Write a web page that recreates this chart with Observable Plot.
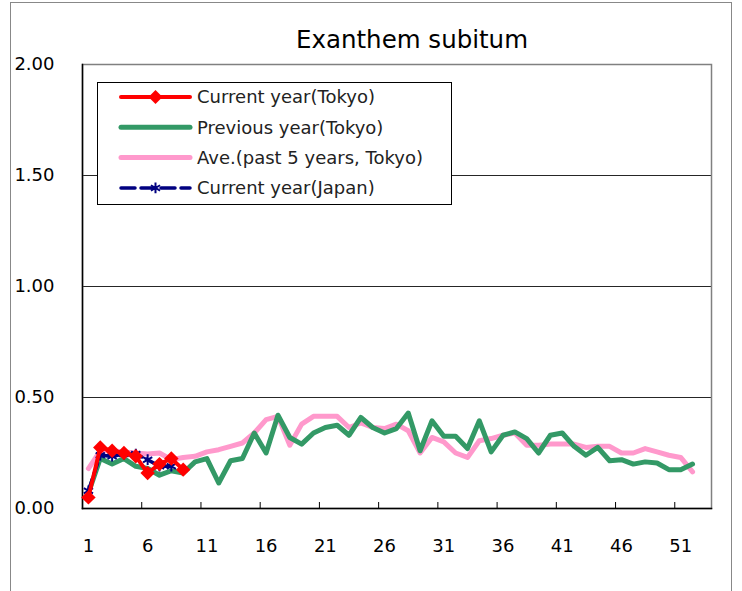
<!DOCTYPE html>
<html><head><meta charset="utf-8">
<script src="https://cdn.jsdelivr.net/npm/d3@7"></script>
<script src="https://cdn.jsdelivr.net/npm/@observablehq/plot@0.6"></script>
<style>body{margin:0;background:#fff} #chart{width:742px;height:591px}</style>
</head><body><div id="chart"></div>
<script>
const title = "Exanthem subitum";
const seriesNames = ["Current year(Tokyo)", "Previous year(Tokyo)", "Ave.(past 5 years, Tokyo)", "Current year(Japan)"];
const prevTokyo = [0.07,0.225,0.20,0.225,0.19,0.18,0.15,0.17,0.16,0.21,0.225,0.115,0.215,0.225,0.34,0.25,0.42,0.32,0.29,0.34,0.365,0.375,0.33,0.41,0.365,0.34,0.36,0.43,0.26,0.395,0.325,0.325,0.27,0.395,0.255,0.33,0.345,0.315,0.25,0.33,0.34,0.28,0.24,0.275,0.215,0.22,0.20,0.21,0.205,0.175,0.175,0.20];
const avgTokyo = [0.18,0.26,0.26,0.255,0.25,0.245,0.25,0.22,0.23,0.235,0.255,0.265,0.28,0.295,0.34,0.40,0.415,0.285,0.38,0.415,0.415,0.415,0.365,0.385,0.365,0.36,0.38,0.35,0.25,0.32,0.30,0.25,0.23,0.305,0.315,0.33,0.34,0.285,0.285,0.29,0.29,0.29,0.275,0.28,0.28,0.25,0.25,0.27,0.255,0.24,0.23,0.165];
const curTokyo = [0.05,0.275,0.26,0.25,0.235,0.16,0.20,0.225,0.175];
const curJapan = [0.08,0.24,0.235,0.245,0.245,0.22,0.19,0.19];
const yTicks = [0, 0.5, 1, 1.5, 2];
const yGrid = [0.5, 1, 1.5];
const xTickLabels = [1,6,11,16,21,26,31,36,41,46,51];
const xTickMarks = [5.5,10.5,15.5,20.5,25.5,30.5,35.5,40.5,45.5,50.5];

const rows = vals => vals.map((v, i) => ({week: i + 1, value: v}));
const colors = {red: "#ff0000", green: "#339966", pink: "#ff99cc", navy: "#000080"};
const FONT = "DejaVu Sans";
const yMax = 2, plotH = 591 - 64 - 83;
const tickLen = 6 * yMax / plotH; // inward tick length (6px) in data units

const plot = Plot.plot({
  width: 742, height: 591,
  marginLeft: 82, marginRight: 31, marginTop: 64, marginBottom: 83,
  style: {fontFamily: FONT, fontSize: "18px", color: "#000", background: "#fff"},
  x: {type: "linear", domain: [0.5, 53.6], label: null},
  y: {domain: [0, yMax], label: null},
  marks: [
    Plot.ruleY(yGrid, {stroke: "#000", strokeWidth: 1, strokeOpacity: 0.85}),
    Plot.frame({stroke: "#808080", strokeWidth: 1.5}),
    Plot.frame({anchor: "left", stroke: "#000", strokeWidth: 1.5}),
    Plot.frame({anchor: "bottom", stroke: "#000", strokeWidth: 1.5}),
    Plot.ruleX(xTickMarks, {x: d => d, y1: 0, y2: tickLen, stroke: "#000", strokeWidth: 1}),
    Plot.axisX({ticks: xTickLabels, tickSize: 0, tickPadding: 31, fontSize: 18, tickFormat: d => String(d), label: null}),
    Plot.axisY({ticks: yTicks, tickSize: 0, tickPadding: 28, fontSize: 18, tickFormat: d3.format(".2f"), label: null}),
    Plot.line(rows(avgTokyo), {x: "week", y: "value", stroke: colors.pink, strokeWidth: 5, strokeLinejoin: "round"}),
    Plot.line(rows(prevTokyo), {x: "week", y: "value", stroke: colors.green, strokeWidth: 5, strokeLinejoin: "round"}),
    Plot.line(rows(curJapan), {x: "week", y: "value", stroke: colors.navy, strokeWidth: 3.5, strokeDasharray: "12,5", strokeLinejoin: "round"}),
    Plot.dot(rows(curJapan), {x: "week", y: "value", symbol: "asterisk", r: 5, stroke: colors.navy, strokeWidth: 2}),
    Plot.line(rows(curTokyo), {x: "week", y: "value", stroke: colors.red, strokeWidth: 4, strokeLinejoin: "round"}),
    Plot.dot(rows(curTokyo), {x: "week", y: "value", symbol: "diamond2", r: 6.5, fill: colors.red, stroke: "none"}),
    Plot.text([title], {text: d => d, frameAnchor: "top", dx: 15, dy: -24, lineAnchor: "middle", fontSize: 24.5})
  ]
});
document.getElementById("chart").appendChild(plot);

const svg = d3.select(plot);
// outer chart frame
svg.append("rect").attr("x", 10.5).attr("y", 2.5).attr("width", 721).attr("height", 620)
  .attr("fill", "none").attr("stroke", "#888").attr("stroke-width", 1);

// legend
const lg = svg.append("g").attr("font-family", FONT).attr("font-size", 18).attr("text-anchor", "start");
lg.append("rect").attr("x", 97.5).attr("y", 82.5).attr("width", 354).attr("height", 122)
  .attr("fill", "#fff").attr("stroke", "#000").attr("stroke-width", 1);
const legendStyles = [
  {stroke: colors.red, width: 4, dash: null, marker: "diamond"},
  {stroke: colors.green, width: 5, dash: null, marker: null},
  {stroke: colors.pink, width: 5, dash: null, marker: null},
  {stroke: colors.navy, width: 3.5, dash: "14,6", marker: "asterisk"}
];
seriesNames.forEach((name, i) => {
  const y = 97 + i * 30.3;
  const s = legendStyles[i];
  const ln = lg.append("line").attr("x1", 121).attr("x2", 190).attr("y1", y).attr("y2", y)
    .attr("stroke", s.stroke).attr("stroke-width", s.width).attr("stroke-linecap", "round");
  if (s.dash) ln.attr("stroke-dasharray", s.dash);
  if (s.marker === "diamond") {
    lg.append("path").attr("d", d3.symbol(d3.symbolDiamond2, 6.3 * 6.3 * Math.PI)())
      .attr("transform", `translate(155.5,${y})`).attr("fill", s.stroke);
  } else if (s.marker === "asterisk") {
    lg.append("path").attr("d", d3.symbol(d3.symbolAsterisk, 25 * Math.PI)())
      .attr("transform", `translate(155.5,${y})`).attr("fill", "none").attr("stroke", s.stroke).attr("stroke-width", 2);
  }
  lg.append("text").attr("x", 197).attr("y", y).attr("dy", "0.35em").attr("fill", "#222").attr("text-anchor", "start").text(name);
});
</script>
</body></html>
